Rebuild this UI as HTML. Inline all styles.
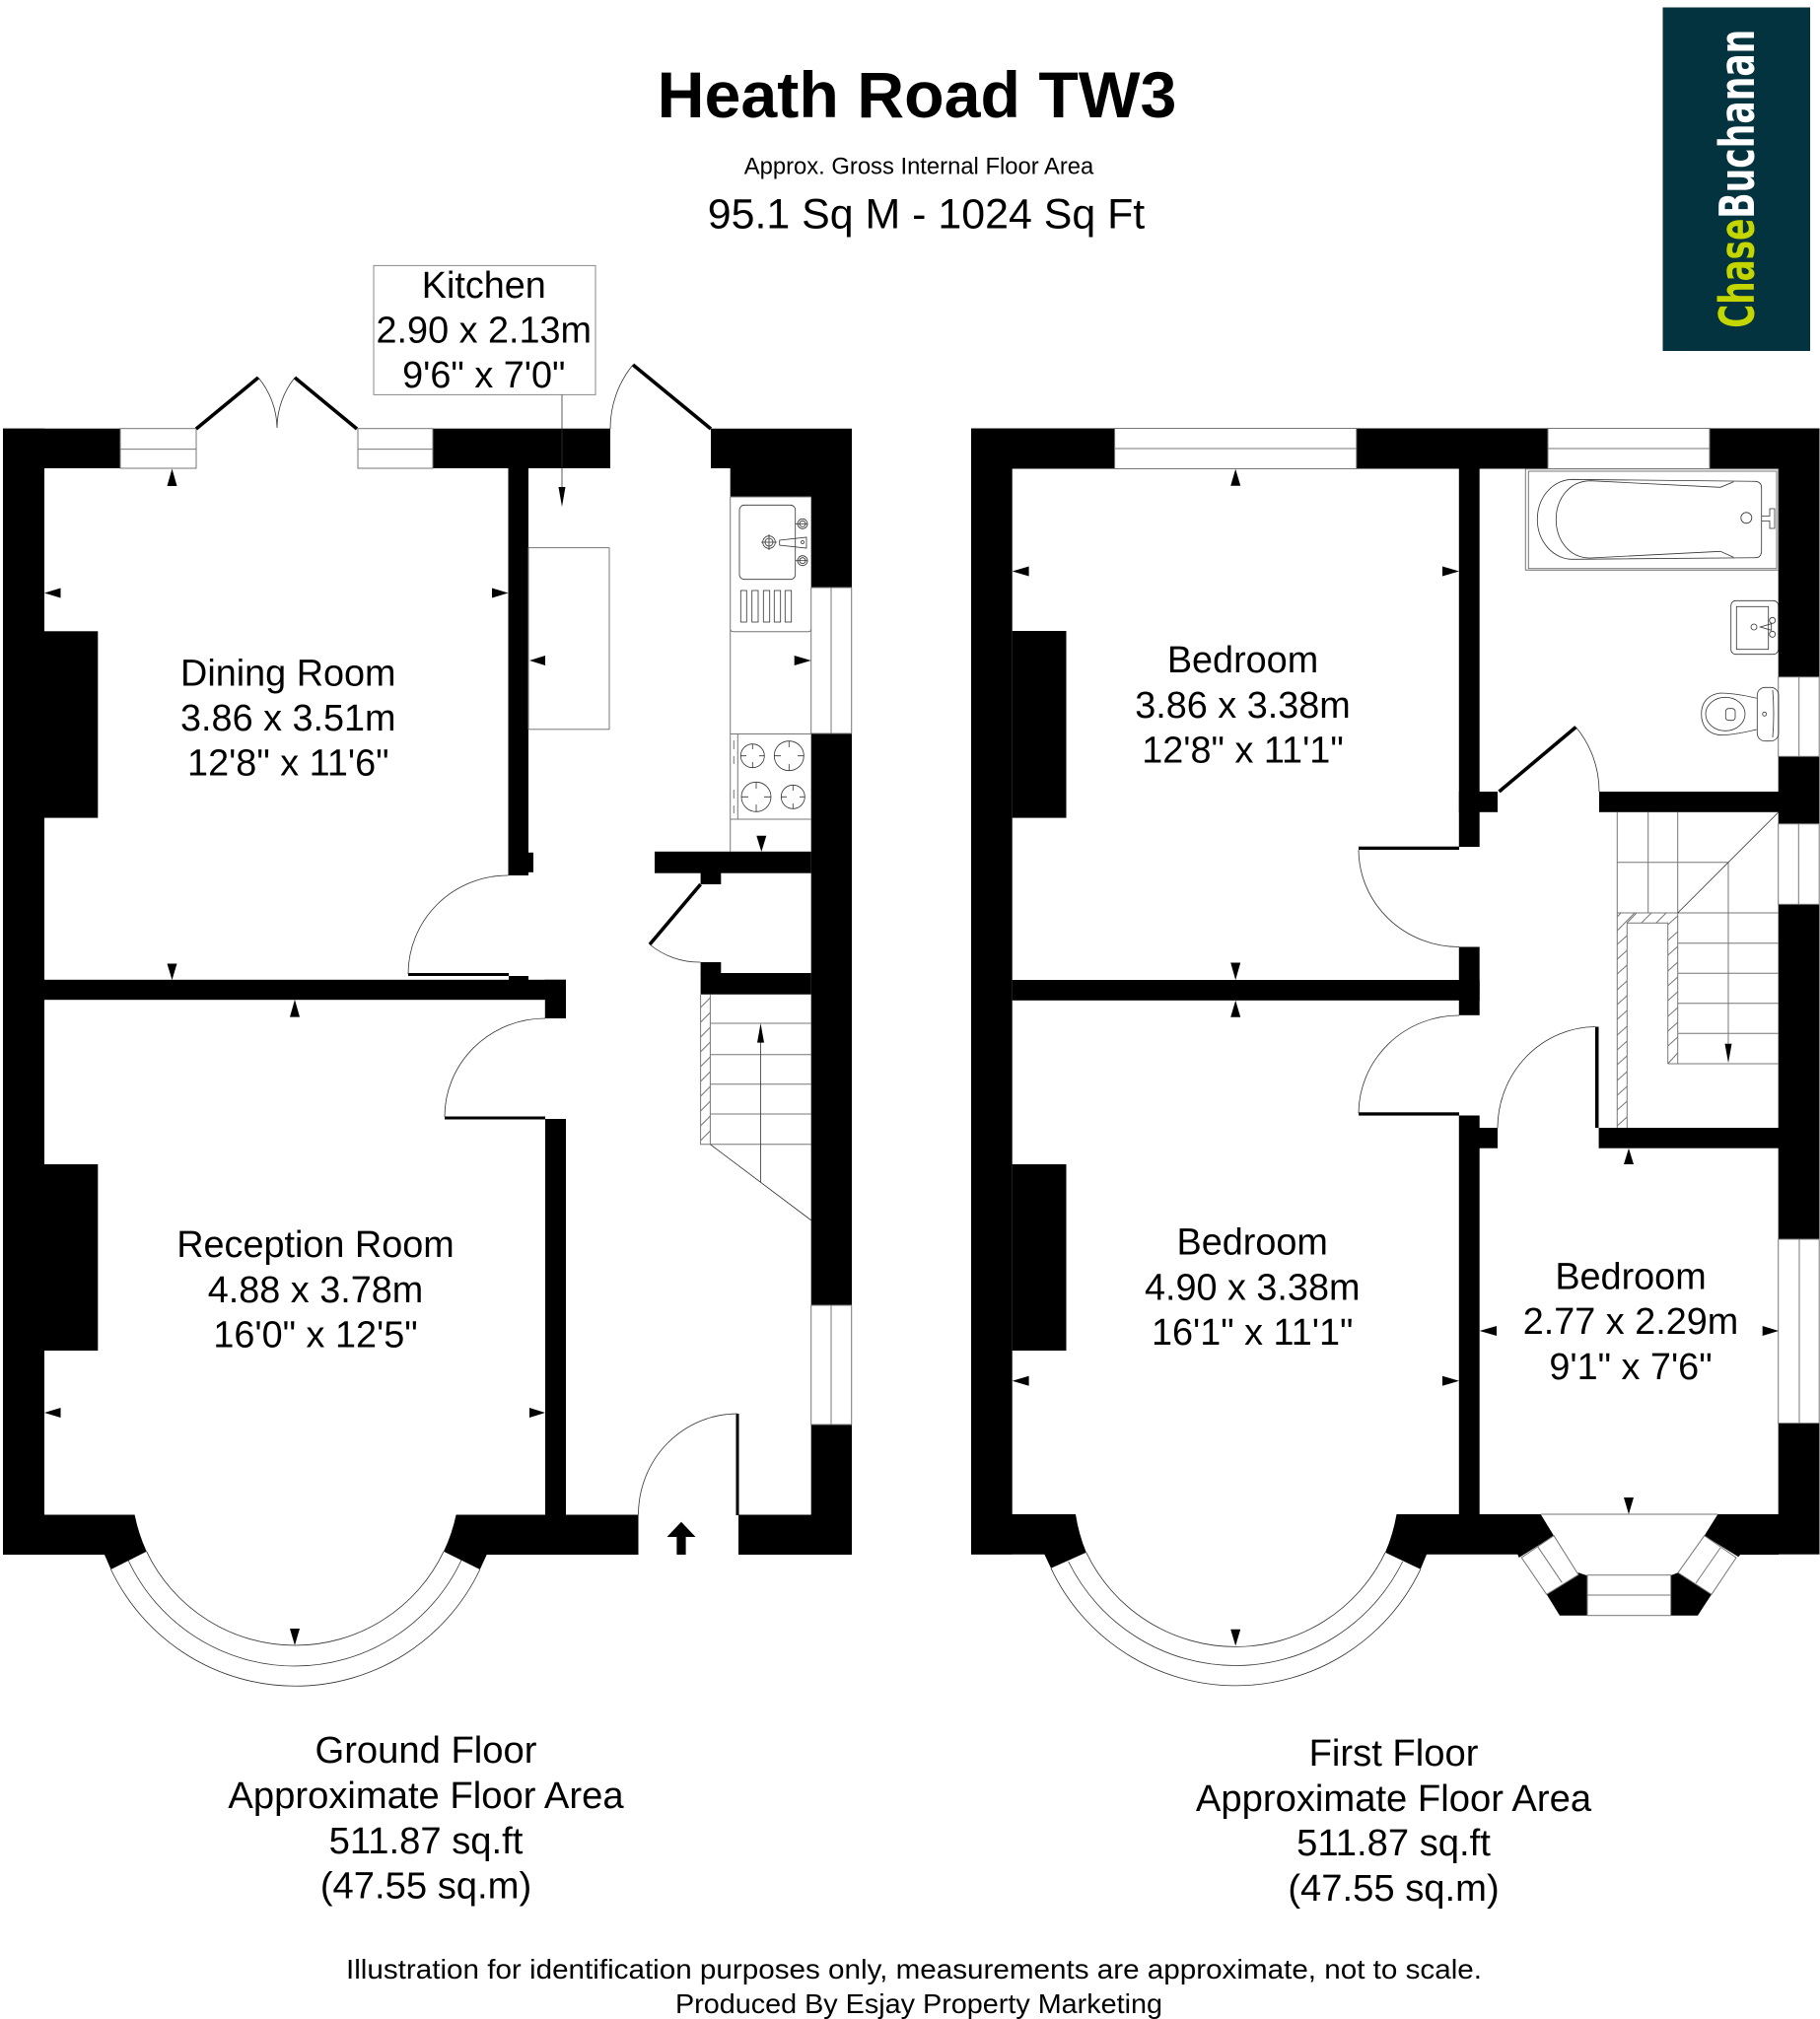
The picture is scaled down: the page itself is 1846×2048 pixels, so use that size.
<!DOCTYPE html>
<html><head><meta charset="utf-8"><title>Heath Road TW3</title>
<style>html,body{margin:0;padding:0;background:#fff}svg{display:block}
text{font-family:"Liberation Sans",Arial,sans-serif;fill:#000}
.r{font-size:37.8px;text-anchor:middle}
.c{font-size:38.2px;text-anchor:middle}
.l{fill:none;stroke:#333;stroke-width:.8}
.g{fill:none;stroke:#777;stroke-width:1}
.w{fill:#fff;stroke:#777;stroke-width:1}
.d{stroke:#000;stroke-width:3.6;fill:none}
</style></head><body>
<svg xmlns="http://www.w3.org/2000/svg" width="1846" height="2048" viewBox="0 0 1846 2048">
<rect width="1846" height="2048" fill="#fff"/>

<!-- header -->
<text x="930" y="119" text-anchor="middle" font-weight="bold" font-size="66.3">Heath Road TW3</text>
<text x="932" y="176.5" text-anchor="middle" font-size="23.8">Approx. Gross Internal Floor Area</text>
<text x="939.500" y="231.5" text-anchor="middle" font-size="42.9">95.1 Sq M - 1024 Sq Ft</text>
<rect x="1686.500" y="7.5" width="149.500" height="348.500" fill="#03333f"/>
<g transform="translate(1779,332.700) rotate(-90)">
<text x="0" y="0" textLength="111" lengthAdjust="spacingAndGlyphs" style="fill:#c4d600;font-family:'DejaVu Sans',sans-serif;font-size:49px;font-weight:bold">Chase</text>
<text x="111" y="0" textLength="192" lengthAdjust="spacingAndGlyphs" style="fill:#fff;font-family:'DejaVu Sans',sans-serif;font-size:49px;font-weight:bold">Buchanan</text>
</g>

<!-- GROUND FLOOR walls -->
<g fill="#000">
<rect x="3" y="434.700" width="119" height="40.300"/>
<rect x="3" y="434.700" width="42" height="1142.300"/>
<rect x="439" y="434.700" width="180" height="40.300"/>
<polygon points="721,434.700 864,434.700 864,596 822.700,596 822.700,504 740.700,504 740.700,475 721,475"/>
<rect x="822.700" y="744" width="41.300" height="580"/>
<rect x="822.700" y="1445" width="41.300" height="132"/>
<rect x="515.500" y="475" width="20.500" height="413"/>
<rect x="530" y="864.800" width="11" height="20"/>
<rect x="45" y="640.300" width="54.300" height="189.300"/>
<rect x="45" y="1181" width="54.300" height="189"/>
<rect x="45" y="993.800" width="529" height="20.400"/>
<rect x="552.800" y="993.800" width="21.200" height="39.200"/>
<rect x="516" y="990" width="20" height="4"/>
<rect x="553" y="1135" width="21" height="402"/>
<rect x="414" y="987" width="102" height="3"/>
<rect x="451" y="1132.500" width="102" height="3"/>
<rect x="746.500" y="1434" width="3" height="103"/>
<rect x="664" y="863.800" width="158.700" height="21.900"/>
<rect x="710.600" y="885" width="20.700" height="12"/>
<rect x="710.600" y="976" width="20.700" height="12"/>
<rect x="710.600" y="987" width="112.100" height="21.700"/>
<path d="M45,1536.500H136.600A166.800,166.800 0 0 0 148.700,1573.800L112.500,1592L106,1577H3V1536.500Z"/>
<path d="M462.600,1536.500A166.800,166.800 0 0 1 450,1573.800L486.800,1592L493.700,1577H647.500V1536.500Z"/>
<rect x="749" y="1536.500" width="115" height="40.500"/>
</g>
<!-- ground windows -->
<g class="w">
<rect class="w" x="122" y="434.700" width="77" height="40.300"/><line class="g" x1="122" y1="455.600" x2="199" y2="455.600"/>
<rect class="w" x="363" y="434.700" width="76" height="40.300"/><line class="g" x1="363" y1="455.600" x2="439" y2="455.600"/>
<rect class="w" x="822.700" y="596" width="41" height="148"/><line class="g" x1="843" y1="596" x2="843" y2="744"/>
<rect class="w" x="822.700" y="1324" width="41" height="121"/><line class="g" x1="843" y1="1324" x2="843" y2="1445"/>
</g>
<!-- ground doors -->
<path class="d" d="M199,435L262,383M362,435L299,383M721,435L642,370M710.600,897L659,958"/>
<path class="l" d="M262,383A82,82 0 0 1 281,434M299,383A82,82 0 0 0 281,434M642,370A102,102 0 0 0 619,435M659,958A79,79 0 0 0 710.600,976M515.500,888A101,100 0 0 0 414,988M553,1033A102,100 0 0 0 451,1133M748,1434A100.500,102.500 0 0 0 647.500,1536.500"/>
<!-- bay -->
<path class="l" d="M148.700,1573.800A166.800,166.800 0 0 0 450,1573.800M130,1582.500A186.600,186.600 0 0 0 468,1582.500M112.500,1592A207.200,207.200 0 0 0 486.800,1592"/>
<!-- kitchen label -->
<rect x="379" y="269.400" width="225" height="131" fill="#fff" stroke="#888" stroke-width="1"/>
<line class="l" x1="570" y1="400.500" x2="570" y2="500"/>
<polygon points="570,514 566.500,494 573.500,494"/>
<text class="r" x="490.800" y="302">Kitchen</text>
<text class="r" x="490.800" y="347.500">2.90 x 2.13m</text>
<text class="r" x="490.800" y="393">9'6" x 7'0"</text>
<rect x="536" y="555.600" width="82" height="184.200" class="g"/>
<!-- kitchen fittings -->
<g class="g">
<path d="M740.700,504H822.700M740.700,504V864M740.700,638Q740.700,640.700 744,640.700H820Q822.700,640.700 822.700,638M740.700,744.500H822.700M740.700,831H822.700M748.300,744.500V831M744.300,751V760M744.300,767V775M744.300,801V810M744.300,817V825"/>
</g>
<g class="l">
<rect x="750" y="512.300" width="56.700" height="75.400" rx="5"/>
<rect x="751.300" y="599" width="6" height="32"/><rect x="762.700" y="599" width="6.300" height="32"/><rect x="774.300" y="599" width="6.400" height="32"/><rect x="785.300" y="599" width="6.400" height="32"/><rect x="796.300" y="599" width="6.400" height="32"/>
<circle cx="780" cy="550" r="6.300"/><circle cx="780" cy="550" r="4"/><path d="M772,550H788M780,542V558"/>
<circle cx="814" cy="531.300" r="5"/><circle cx="814" cy="531.300" r="3"/><path d="M807,531.300H819"/>
<circle cx="814" cy="568.700" r="5"/><circle cx="814" cy="568.700" r="3"/><path d="M807,568.700H819"/>
<path d="M790.700,548L818,545V556L790.700,553Z"/><circle cx="814" cy="550" r="1.500"/>
<circle cx="763.300" cy="766.700" r="12"/><path d="M763.300,755V760M763.300,773V778.700M751.300,766.700H757M770,766.700H775"/>
<circle cx="800.300" cy="766.700" r="15"/><path d="M800.300,752V758M800.300,775V781.700M785.300,766.700H792M809,766.700H815"/>
<circle cx="767" cy="808.300" r="15"/><path d="M767,793V800M767,816V823M752,808.300H759M775,808.300H782"/>
<circle cx="804.300" cy="808.300" r="12"/><path d="M804.300,796V802M804.300,815V820M792,808.300H798M811,808.300H816"/>
</g>
<!-- ground stairs -->
<path class="g" d="M710.600,1008.700V1160.800H822.700M720.400,1008.700V1160.800M720.400,1038H822.700M720.400,1069.700H822.700M720.400,1099.700H822.700M720.400,1130H822.700"/>
<path class="l" d="M720.400,1160.800L823,1238M771.500,1050V1199.600"/>
<polygon points="771.500,1038 768,1057.600 775,1057.600"/>
<path class="g" d="M710.600,1022L720.400,1012M710.600,1037L720.400,1027M710.600,1052L720.400,1042M710.600,1067L720.400,1057M710.600,1082L720.400,1072M710.600,1097L720.400,1087M710.600,1112L720.400,1102M710.600,1127L720.400,1117M710.600,1142L720.400,1132M710.600,1157L720.400,1147"/>
<!-- ground arrows -->
<g fill="#000">
<polygon points="174.500,475.500 169.500,493 179.500,493"/>
<polygon points="45,601.500 61.500,596.500 61.500,606.500"/>
<polygon points="515.500,601.500 499,596.500 499,606.500"/>
<polygon points="537,670 553,665 553,675"/>
<polygon points="822.700,670 805.700,665 805.700,675"/>
<polygon points="772.300,864 767.300,847.700 777.300,847.700"/>
<polygon points="174.500,994 169.500,977.500 179.500,977.500"/>
<polygon points="299,1014 294,1031.600 304,1031.600"/>
<polygon points="45,1433 61.500,1428 61.500,1438"/>
<polygon points="553,1433 537,1428 537,1438"/>
<polygon points="299,1669 294,1652 304,1652"/>
<polygon points="691,1543.700 705.500,1559 695.600,1559 695.600,1577 686.400,1577 686.400,1559 676.500,1559"/>
</g>
<text class="r" x="292.300" y="695.500">Dining Room</text>
<text class="r" x="292.300" y="741">3.86 x 3.51m</text>
<text class="r" x="292.300" y="786.700">12'8" x 11'6"</text>
<text class="r" x="320" y="1275">Reception Room</text>
<text class="r" x="320" y="1320.800">4.88 x 3.78m</text>
<text class="r" x="320" y="1366.500">16'0" x 12'5"</text>

<!-- FIRST FLOOR walls -->
<g fill="#000">
<rect x="985" y="434.500" width="145.600" height="41"/>
<rect x="985" y="434.500" width="41.700" height="1142.200"/>
<rect x="1375.800" y="434.500" width="194.200" height="41"/>
<rect x="1734" y="434.500" width="111.500" height="41"/>
<rect x="1803.700" y="434.500" width="41.800" height="252.200"/>
<rect x="1803.700" y="767.300" width="41.800" height="68.400"/>
<rect x="1803.700" y="917.300" width="41.800" height="339.700"/>
<rect x="1803.700" y="1443.600" width="41.800" height="133.100"/>
<rect x="1479.800" y="475" width="20.900" height="384"/>
<rect x="1479.800" y="803" width="39.200" height="20.800"/>
<rect x="1622" y="803" width="182" height="20.800"/>
<rect x="1378" y="858.700" width="102" height="3.300"/>
<rect x="1479.800" y="960.500" width="20.900" height="69.300"/>
<rect x="1026.700" y="994" width="474" height="20.800"/>
<rect x="1378" y="1128.300" width="102" height="3.300"/>
<rect x="1479.800" y="1131.500" width="20.900" height="405"/>
<rect x="1500" y="1144" width="19" height="20.700"/>
<rect x="1618" y="1041.500" width="3.500" height="102.500"/>
<rect x="1621.600" y="1144" width="182.400" height="20.700"/>
<rect x="1026.700" y="640" width="54.800" height="189.600"/>
<rect x="1026.700" y="1181" width="54.800" height="189"/>
<path d="M1026,1536H1091A168,168 0 0 0 1101.800,1574.800L1066,1590.800L1059.400,1576.700H985V1536Z"/>
<path d="M1416.500,1536A168,168 0 0 1 1405,1574.800L1440.800,1591.800L1447,1576.700H1539.300L1540.700,1580L1576,1557.700L1562.700,1536Z"/>
<path d="M1742.300,1536H1804V1577H1765L1763.300,1579.300L1728.700,1557.700Z"/>
<polygon points="1568.700,1617.300 1601,1595.300 1610,1598.300 1610,1638.700 1582,1638.700"/>
<polygon points="1694.700,1598 1702,1595.300 1736,1617.300 1722,1638.700 1694.700,1638.700"/>
</g>
<!-- first windows -->
<rect class="w" x="1130.600" y="434.500" width="245.200" height="41"/><line class="g" x1="1130.600" y1="455" x2="1375.800" y2="455"/>
<rect class="w" x="1570" y="434.500" width="164" height="41"/><line class="g" x1="1570" y1="455" x2="1734" y2="455"/>
<rect class="w" x="1803.700" y="686.700" width="41.500" height="80.600"/><line class="g" x1="1824.700" y1="686.700" x2="1824.700" y2="767.300"/>
<rect class="w" x="1803.700" y="835.700" width="41.500" height="81.600"/><line class="g" x1="1824.300" y1="835.700" x2="1824.300" y2="917.300"/>
<rect class="w" x="1803.700" y="1257" width="41.500" height="186.600"/><line class="g" x1="1825" y1="1257" x2="1825" y2="1443.600"/>
<polygon class="w" points="1576,1557.700 1601,1597.300 1568.700,1617.300 1543.300,1580"/><line class="g" x1="1560" y1="1569.300" x2="1584.300" y2="1605.300"/>
<polygon class="w" points="1702,1595.300 1728.700,1557.700 1761,1580 1736,1617.300"/><line class="g" x1="1745" y1="1570" x2="1720" y2="1606"/>
<rect class="w" x="1610" y="1597.700" width="84.700" height="41"/><line class="g" x1="1610" y1="1618" x2="1694.700" y2="1618"/>
<line class="g" x1="1562.700" y1="1536" x2="1742.300" y2="1536"/>
<!-- first doors -->
<path class="d" d="M1520.500,803L1598.400,737.500"/>
<path class="l" d="M1598.400,737.500A102,102 0 0 1 1622,803M1378,862A102,99 0 0 0 1480,960.500M1480,1030A102,100 0 0 0 1378,1129M1618,1041.500A100,103 0 0 0 1519,1144"/>
<path class="l" d="M1101.800,1574.800A168,168 0 0 0 1405,1574.800M1083.700,1584A188.900,188.900 0 0 0 1422.700,1584M1066,1590.800A207.400,207.400 0 0 0 1440.800,1591.800"/>
<!-- first stairs -->
<path class="g" d="M1640.300,823.500V1144M1671.700,823.500V926M1701.700,823.500V1079M1640.300,874.700H1753M1640.300,926H1804M1701.700,956.700H1804M1701.700,987.300H1804M1701.700,1017.700H1804M1701.700,1048.300H1804M1691.700,1079H1804M1650.300,936.300H1691.700V1079M1650.300,936.300V1144M1753,874.700V1060"/>
<path class="l" d="M1701.700,926L1803.700,824"/>
<polygon points="1753,1078.300 1749.500,1058.700 1756.500,1058.700"/>
<path class="g" d="M1640.300,930L1644,926M1640.300,944L1658,926M1650,936.300L1660,926M1665,936L1675,926M1680,936L1690,926M1691.700,938L1701.700,929M1640.300,958L1650.300,949M1640.300,973L1650.300,964M1640.300,988L1650.300,979M1640.300,1004L1650.300,995M1640.300,1019L1650.300,1010M1640.300,1034L1650.300,1025M1640.300,1050L1650.300,1041M1640.300,1065L1650.300,1056M1640.300,1080L1650.300,1071M1640.300,1096L1650.300,1087M1640.300,1111L1650.300,1102M1640.300,1126L1650.300,1117M1640.300,1142L1650.300,1133M1691.700,954L1701.700,945M1691.700,969L1701.700,960M1691.700,985L1701.700,976M1691.700,1000L1701.700,991M1691.700,1015L1701.700,1006M1691.700,1031L1701.700,1022M1691.700,1046L1701.700,1037M1691.700,1061L1701.700,1052M1691.700,1079L1701.700,1068"/>
<!-- bath -->
<rect class="g" x="1547.300" y="475.700" width="256.400" height="102.600"/>
<rect class="g" x="1550.300" y="478" width="251.700" height="98.700"/>
<g class="l">
<path d="M1595,486.300L1780.700,488.300Q1786.700,489 1786.700,495V558Q1786.700,565.700 1780.700,565.700L1595,567.300A35.700,40.500 0 0 1 1595,486.300Z"/>
<path d="M1758.300,488.700L1745,494.300L1613.300,487.700C1590,488 1578.300,508 1578.300,526.700C1578.300,546 1590,566 1613.300,566L1745,559.300L1758.300,565.300"/>
<circle cx="1771.300" cy="525.300" r="5.500"/>
<path d="M1786.700,523.500H1795V516H1800V536H1795V528.500H1786.700"/>
<rect x="1755.700" y="609.300" width="48" height="54.400" rx="5"/>
<rect x="1761.300" y="615.300" width="32.400" height="43.400"/>
<circle cx="1779" cy="636" r="3"/><circle cx="1797.700" cy="629.300" r="3"/><circle cx="1797.700" cy="643.300" r="3"/>
<path d="M1785.300,636L1796.700,632.700V639.300Z"/>
<rect x="1782.300" y="697.300" width="21.700" height="54.400" rx="8"/>
<path d="M1798,700Q1800,724 1798,748"/>
<circle cx="1789.700" cy="724.300" r="2"/>
<path d="M1781.700,708.300C1765,704 1750,703 1745,703C1730,705 1725.700,715 1725.700,724.300C1725.700,734 1730,744 1745,745.700C1752,745.700 1765,744 1781.700,740"/>
<ellipse cx="1750" cy="724.300" rx="20" ry="17"/>
<rect x="1750.300" y="718.700" width="9.700" height="12" rx="3"/>
</g>
<!-- first arrows -->
<g fill="#000">
<polygon points="1253.200,475.700 1248.200,492.700 1258.200,492.700"/>
<polygon points="1026.700,579.500 1043.600,574.500 1043.600,584.500"/>
<polygon points="1480,579.500 1463,574.500 1463,584.500"/>
<polygon points="1253.200,994 1248.200,976.500 1258.200,976.500"/>
<polygon points="1253.200,1014.800 1248.200,1031.700 1258.200,1031.700"/>
<polygon points="1652,1164.700 1647,1181 1657,1181"/>
<polygon points="1500.700,1350 1518,1345 1518,1355"/>
<polygon points="1804,1350 1787.700,1345 1787.700,1355"/>
<polygon points="1026.700,1400.700 1043.600,1395.700 1043.600,1405.700"/>
<polygon points="1480,1400.700 1463,1395.700 1463,1405.700"/>
<polygon points="1652,1536 1647,1519 1657,1519"/>
<polygon points="1253.200,1669.500 1248.200,1652.700 1258.200,1652.700"/>
</g>
<text class="r" x="1260.500" y="682">Bedroom</text>
<text class="r" x="1260.500" y="727.800">3.86 x 3.38m</text>
<text class="r" x="1260.500" y="773.400">12'8" x 11'1"</text>
<text class="r" x="1270.200" y="1272.500">Bedroom</text>
<text class="r" x="1270.200" y="1318.500">4.90 x 3.38m</text>
<text class="r" x="1270.200" y="1364">16'1" x 11'1"</text>
<text class="r" x="1654" y="1307.700">Bedroom</text>
<text class="r" x="1654" y="1353">2.77 x 2.29m</text>
<text class="r" x="1654" y="1398.800">9'1" x 7'6"</text>

<!-- floor captions -->
<text class="c" x="432" y="1788">Ground Floor</text>
<text class="c" x="432" y="1834">Approximate Floor Area</text>
<text class="c" x="432" y="1880">511.87 sq.ft</text>
<text class="c" x="432" y="1925.500">(47.55 sq.m)</text>
<text class="c" x="1413.500" y="1791">First Floor</text>
<text class="c" x="1413.500" y="1837">Approximate Floor Area</text>
<text class="c" x="1413.500" y="1882">511.87 sq.ft</text>
<text class="c" x="1413.500" y="1928">(47.55 sq.m)</text>
<text x="351" y="2007" font-size="28" textLength="1152" lengthAdjust="spacingAndGlyphs">Illustration for identification purposes only, measurements are approximate, not to scale.</text>
<text x="685" y="2042" font-size="28" textLength="494" lengthAdjust="spacingAndGlyphs">Produced By Esjay Property Marketing</text>
</svg>
</body></html>
